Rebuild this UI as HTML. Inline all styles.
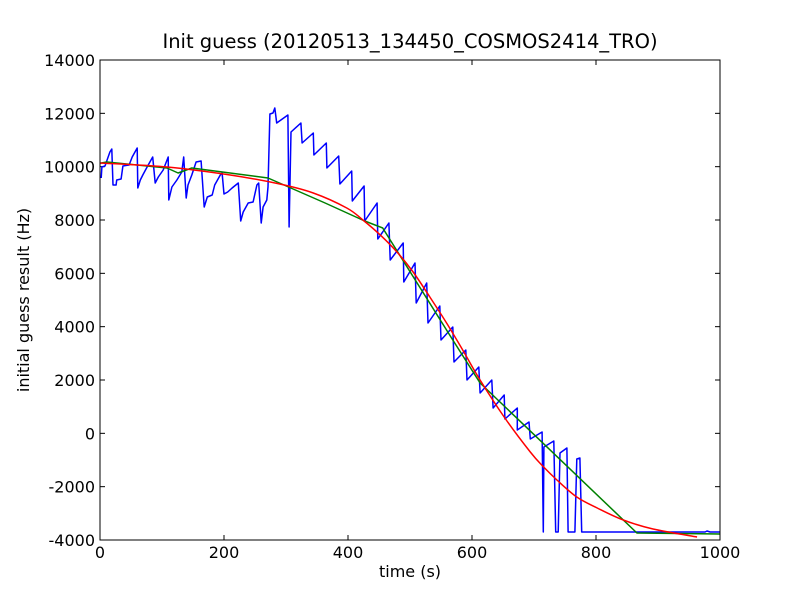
<!DOCTYPE html>
<html><head><meta charset="utf-8"><style>
body{margin:0;background:#fff}
svg text{font-family:"DejaVu Sans","Liberation Sans",sans-serif;fill:#000}
</style></head><body>
<svg id="chart" width="800" height="600" viewBox="0 0 800 600">
<rect width="800" height="600" fill="#fff"/>
<text x="410" y="48" font-size="19.5" text-anchor="middle">Init guess (20120513_134450_COSMOS2414_TRO)</text>
<text x="410" y="577" font-size="16" text-anchor="middle">time (s)</text>
<text x="29" y="300" font-size="16" text-anchor="middle" transform="rotate(-90 29 300)">initial guess result (Hz)</text>
<g id="ticks"></g>
<g id="series"></g>
<rect x="100" y="60" width="620" height="480" fill="none" stroke="#000" stroke-width="1"/>
</svg>
<script>
const xTicks=[0,200,400,600,800,1000];
const yTicks=[-4000,-2000,0,2000,4000,6000,8000,10000,12000,14000];
const blueT=[2,3,8,16,19,21,26,27,34,37,47,52,60,61,65,69,76,85,89,94,102,110,111,116,124,132,135,139,142,148,155,163,168,173,181,185,194,197,200,206,213,223,227,231,239,247,253,256,260,263,269,271,274,279,282,285,303,305,308,324,326,344,345,365,366,385,387,406,407,426,427,447,448,466,468,489,490,508,510,527,529,548,550,569,571,590,592,611,613,632,634,652,653,673,673,692,694,713,715,716,732,735,739,742,753,755,766,769,774,777,976,979,984,1000];
const blueF=[9575,9988,10025,10550,10663,9313,9313,9500,9538,10025,10063,10363,10700,9200,9500,9688,9988,10363,9388,9613,9875,10363,8750,9238,9500,9800,10363,8825,9313,9688,10175,10213,8488,8863,8938,9313,9688,9763,8975,9050,9200,9388,7963,8300,8638,8675,9313,9388,7888,8488,8750,9238,11975,12013,12200,11638,11938,7738,11300,11638,10888,11263,10438,10888,9950,10400,9350,9838,8713,9275,7963,8638,7288,7888,6500,7138,5675,6388,4888,5638,4138,4775,3500,3988,2675,3125,2000,2488,1513,2000,950,1438,538,950,125,425,-213,50,-3700,-513,-288,-3700,-3700,-738,-550,-3700,-3700,-963,-925,-3700,-3700,-3663,-3700,-3700];
const greenT=[2,11,108,126,148,271,363,427,456,569,613,866,1000];
const greenF=[10138,10175,9950,9763,9950,9575,8638,7963,7700,3500,1888,-3738,-3775];
const redT=[0,108,210,290,344,398,424,452,479,505,532,560,585,613,653,694,715,737,769,802,844,892,963];
const redF=[10138,9988,9688,9350,9013,8450,8000,7438,6800,6050,5113,4100,3125,2000,575,-700,-1250,-1750,-2388,-2800,-3250,-3588,-3888];
const X=t=>100+t*0.62;
const Y=f=>540-(f+4000)*480/18000;
const NS='http://www.w3.org/2000/svg';
const tg=document.getElementById('ticks');
function mk(tag,attrs,parent){const e=document.createElementNS(NS,tag);for(const k in attrs)e.setAttribute(k,attrs[k]);parent.appendChild(e);return e;}
xTicks.forEach(v=>{
  const x=X(v);
  const a=mk('line',{x1:x,y1:540,x2:x,y2:535,stroke:'#000'},tg);
  
  
  const b=mk('line',{x1:x,y1:60,x2:x,y2:65,stroke:'#000'},tg);
  
  
  const t=mk('text',{x:x,y:558,'font-size':16,'text-anchor':'middle'},tg);
  t.textContent=v;
  
  
});
yTicks.forEach(v=>{
  const y=Y(v);
  const a=mk('line',{x1:100,y1:y,x2:105,y2:y,stroke:'#000'},tg);
  
  
  const b=mk('line',{x1:720,y1:y,x2:715,y2:y,stroke:'#000'},tg);
  
  
  const t=mk('text',{x:95,y:y+6,'font-size':16,'text-anchor':'end'},tg);
  t.textContent=v;
  
  
});
const sg=document.getElementById('series');
function line(ts,fs,color,name){
  const pts=ts.map((t,i)=>X(t).toFixed(1)+','+Y(fs[i]).toFixed(1)).join(' ');
  const p=mk('polyline',{points:pts,fill:'none',stroke:color,'stroke-width':1.5,'stroke-linejoin':'round'},sg);
  
  
}
function smooth(ts,fs,color,name){
  const P=ts.map((t,i)=>[X(t),Y(fs[i])]);
  let d='M'+P[0][0]+','+P[0][1];
  for(let i=0;i<P.length-1;i++){
    const p0=P[Math.max(i-1,0)],p1=P[i],p2=P[i+1],p3=P[Math.min(i+2,P.length-1)];
    const c1=[p1[0]+(p2[0]-p0[0])/6,p1[1]+(p2[1]-p0[1])/6];
    const c2=[p2[0]-(p3[0]-p1[0])/6,p2[1]-(p3[1]-p1[1])/6];
    d+=' C'+c1.join(',')+' '+c2.join(',')+' '+p2.join(',');
  }
  const p=mk('path',{d:d,fill:'none',stroke:color,'stroke-width':1.5},sg);
  
  
}
line(blueT,blueF,'#0000ff','blue-guess-line');
line(greenT,greenF,'#008000','green-fit-line');
smooth(redT,redF,'#ff0000','red-fit-line');
</script>
</body></html>
